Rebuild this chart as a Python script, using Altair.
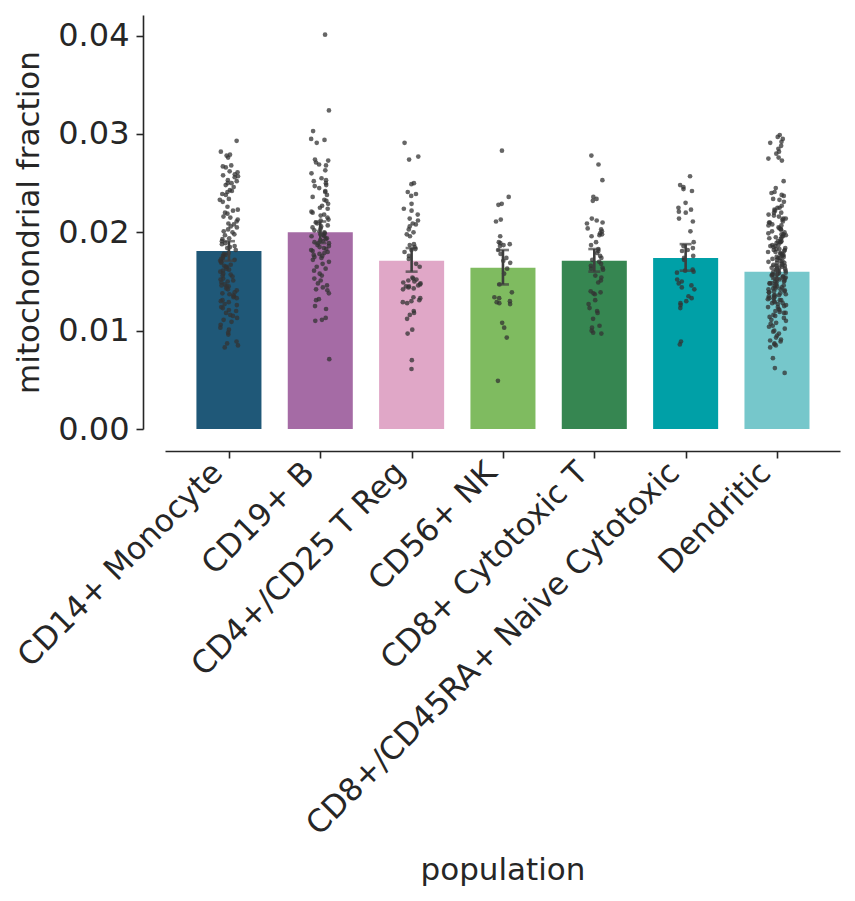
import json
import altair as alt
import pandas as pd

categories = ["CD14+ Monocyte", "CD19+ B", "CD4+/CD25 T Reg", "CD56+ NK",
              "CD8+ Cytotoxic T", "CD8+/CD45RA+ Naive Cytotoxic", "Dendritic"]
colors = ["#1f5878", "#a56ba5", "#e0a7c7", "#7fbb60", "#368651", "#00a0a7", "#76c7cb"]
means = [0.0181, 0.0200, 0.0171, 0.0164, 0.0171, 0.0174, 0.0160]
ci_low = [0.0171, 0.0189, 0.0160, 0.0147, 0.0160, 0.0161, 0.0153]
ci_high = [0.0191, 0.0211, 0.0184, 0.0182, 0.0183, 0.0188, 0.0166]

cd14 = [0.0293, 0.0282, 0.0279, 0.0278, 0.0276, 0.0268, 0.0267, 0.0266, 0.0262, 0.0261,
        0.0259, 0.0258, 0.0257, 0.0256, 0.0253, 0.0252, 0.0250, 0.0250, 0.0248, 0.0246,
        0.0243, 0.0242, 0.0241, 0.0239, 0.0238, 0.0234, 0.0233, 0.0231, 0.0226, 0.0223,
        0.0222, 0.0220, 0.0219, 0.0216, 0.0215, 0.0213, 0.0211, 0.0209, 0.0208, 0.0206,
        0.0205, 0.0203, 0.0201, 0.0200, 0.0198, 0.0197, 0.0194, 0.0193, 0.0191, 0.0189,
        0.0188, 0.0186, 0.0185, 0.0184, 0.0182, 0.0179, 0.0178, 0.0177, 0.0176, 0.0174,
        0.0173, 0.0172, 0.0171, 0.0170, 0.0169, 0.0167, 0.0166, 0.0165, 0.0165, 0.0163,
        0.0162, 0.0161, 0.0160, 0.0158, 0.0157, 0.0156, 0.0155, 0.0153, 0.0152, 0.0151,
        0.0150, 0.0149, 0.0147, 0.0146, 0.0145, 0.0145, 0.0143, 0.0142, 0.0141, 0.0139,
        0.0138, 0.0137, 0.0136, 0.0135, 0.0134, 0.0133, 0.0131, 0.0130, 0.0129, 0.0127,
        0.0126, 0.0124, 0.0123, 0.0121, 0.0120, 0.0118, 0.0116, 0.0115, 0.0113, 0.0111,
        0.0109, 0.0106, 0.0103, 0.0101, 0.0098, 0.0096, 0.0089, 0.0087, 0.0085, 0.0083]
cd19 = [0.0401, 0.0324, 0.0303, 0.0295, 0.0294, 0.0291, 0.0274, 0.0273, 0.0271, 0.0269,
        0.0268, 0.0263, 0.0260, 0.0255, 0.0253, 0.0252, 0.0250, 0.0248, 0.0247, 0.0245,
        0.0242, 0.0241, 0.0238, 0.0236, 0.0233, 0.0232, 0.0229, 0.0227, 0.0225, 0.0224,
        0.0221, 0.0220, 0.0218, 0.0217, 0.0215, 0.0213, 0.0212, 0.0210, 0.0209, 0.0207,
        0.0206, 0.0205, 0.0204, 0.0202, 0.0201, 0.0200, 0.0199, 0.0198, 0.0197, 0.0196,
        0.0196, 0.0194, 0.0193, 0.0192, 0.0191, 0.0190, 0.0189, 0.0189, 0.0187, 0.0186,
        0.0185, 0.0184, 0.0183, 0.0182, 0.0181, 0.0180, 0.0179, 0.0178, 0.0177, 0.0176,
        0.0175, 0.0174, 0.0172, 0.0170, 0.0168, 0.0165, 0.0163, 0.0161, 0.0158, 0.0156,
        0.0153, 0.0151, 0.0148, 0.0146, 0.0144, 0.0142, 0.0141, 0.0138, 0.0132, 0.0131,
        0.0125, 0.0122, 0.0113, 0.0111, 0.0110, 0.0071]
cd4 = [0.0291, 0.0277, 0.0274, 0.0250, 0.0249, 0.0241, 0.0239, 0.0237, 0.0229, 0.0224,
       0.0222, 0.0218, 0.0214, 0.0212, 0.0209, 0.0208, 0.0206, 0.0203, 0.0200, 0.0198,
       0.0196, 0.0188, 0.0187, 0.0185, 0.0183, 0.0182, 0.0180, 0.0176, 0.0173, 0.0168,
       0.0165, 0.0154, 0.0153, 0.0152, 0.0151, 0.0150, 0.0149, 0.0148, 0.0147, 0.0146,
       0.0145, 0.0145, 0.0144, 0.0143, 0.0142, 0.0134, 0.0133, 0.0131, 0.0130, 0.0129,
       0.0128, 0.0120, 0.0118, 0.0116, 0.0112, 0.0101, 0.0097, 0.0070, 0.0061]
nk = [0.0283, 0.0236, 0.0229, 0.0228, 0.0213, 0.0211, 0.0196, 0.0190, 0.0189, 0.0188,
      0.0187, 0.0186, 0.0182, 0.0178, 0.0174, 0.0171, 0.0169, 0.0163, 0.0158, 0.0147,
      0.0139, 0.0134, 0.0133, 0.0130, 0.0129, 0.0128, 0.0127, 0.0108, 0.0103, 0.0093,
      0.0049]
cd8 = [0.0278, 0.0269, 0.0253, 0.0236, 0.0234, 0.0232, 0.0214, 0.0212, 0.0210, 0.0209,
       0.0204, 0.0203, 0.0201, 0.0199, 0.0198, 0.0197, 0.0196, 0.0190, 0.0187, 0.0183,
       0.0181, 0.0179, 0.0176, 0.0174, 0.0172, 0.0170, 0.0168, 0.0166, 0.0164, 0.0163,
       0.0162, 0.0156, 0.0154, 0.0151, 0.0149, 0.0140, 0.0139, 0.0138, 0.0137, 0.0131,
       0.0127, 0.0123, 0.0120, 0.0118, 0.0112, 0.0105, 0.0103, 0.0100, 0.0098, 0.0097]
cd45ra = [0.0257, 0.0248, 0.0246, 0.0244, 0.0242, 0.0230, 0.0225, 0.0223, 0.0221, 0.0220,
          0.0214, 0.0211, 0.0201, 0.0190, 0.0186, 0.0184, 0.0182, 0.0181, 0.0176, 0.0174,
          0.0172, 0.0162, 0.0161, 0.0160, 0.0159, 0.0152, 0.0150, 0.0148, 0.0146, 0.0144,
          0.0142, 0.0135, 0.0133, 0.0130, 0.0128, 0.0126, 0.0123, 0.0089, 0.0086]
dendritic = [0.0299, 0.0297, 0.0295, 0.0292, 0.0291, 0.0288, 0.0285, 0.0282, 0.0280, 0.0276,
             0.0275, 0.0273, 0.0252, 0.0245, 0.0241, 0.0240, 0.0238, 0.0237, 0.0234, 0.0233,
             0.0231, 0.0227, 0.0225, 0.0225, 0.0223, 0.0222, 0.0220, 0.0220, 0.0218, 0.0217,
             0.0216, 0.0214, 0.0214, 0.0213, 0.0211, 0.0210, 0.0210, 0.0208, 0.0207, 0.0207,
             0.0205, 0.0204, 0.0203, 0.0203, 0.0201, 0.0200, 0.0199, 0.0198, 0.0198, 0.0197,
             0.0196, 0.0195, 0.0195, 0.0194, 0.0193, 0.0191, 0.0191, 0.0190, 0.0190, 0.0189,
             0.0187, 0.0187, 0.0186, 0.0186, 0.0185, 0.0184, 0.0183, 0.0183, 0.0182, 0.0182,
             0.0181, 0.0180, 0.0180, 0.0179, 0.0178, 0.0178, 0.0177, 0.0176, 0.0175, 0.0175,
             0.0174, 0.0174, 0.0173, 0.0172, 0.0171, 0.0171, 0.0170, 0.0169, 0.0169, 0.0168,
             0.0167, 0.0167, 0.0166, 0.0166, 0.0165, 0.0164, 0.0163, 0.0163, 0.0163, 0.0162,
             0.0161, 0.0161, 0.0160, 0.0159, 0.0159, 0.0158, 0.0157, 0.0157, 0.0157, 0.0156,
             0.0155, 0.0155, 0.0154, 0.0153, 0.0153, 0.0152, 0.0152, 0.0151, 0.0150, 0.0150,
             0.0149, 0.0148, 0.0148, 0.0148, 0.0147, 0.0146, 0.0145, 0.0145, 0.0144, 0.0143,
             0.0143, 0.0142, 0.0142, 0.0141, 0.0140, 0.0140, 0.0139, 0.0139, 0.0138, 0.0137,
             0.0136, 0.0136, 0.0136, 0.0135, 0.0134, 0.0133, 0.0133, 0.0132, 0.0131, 0.0131,
             0.0130, 0.0129, 0.0128, 0.0128, 0.0127, 0.0126, 0.0125, 0.0124, 0.0124, 0.0122,
             0.0121, 0.0120, 0.0119, 0.0118, 0.0118, 0.0116, 0.0115, 0.0114, 0.0113, 0.0111,
             0.0110, 0.0108, 0.0107, 0.0105, 0.0104, 0.0102, 0.0100, 0.0099, 0.0097, 0.0095,
             0.0093, 0.0091, 0.0090, 0.0089, 0.0087, 0.0086, 0.0085, 0.0083, 0.0072, 0.0062,
             0.0057]

point_lists = [cd14, cd19, cd4, nk, cd8, cd45ra, dendritic]

summary = pd.DataFrame({"population": categories, "idx": list(range(len(categories))),
                        "mean": means, "lo": ci_low, "hi": ci_high})
points_df = pd.DataFrame(
    [{"population": c, "idx": i, "value": v}
     for i, (c, vals) in enumerate(zip(categories, point_lists)) for v in vals]
)

HALF = 0.356   # half bar width in category units
xscale = alt.Scale(domain=[-0.70, 6.69], nice=False, zero=False)
xaxis = alt.Axis(title="population", values=list(range(len(categories))),
                 labelExpr=json.dumps(categories) + "[datum.value]",
                 labelAngle=-45, labelAlign="right", labelBaseline="bottom",
                 labelPadding=21, labelLimit=1000, labelOverlap=False, labelFlush=False,
                 labelBound=False, offset=22, titleY=428, titleBaseline="alphabetic",
                 titleFontSize=31, labelFontSize=31.3)
yscale = alt.Scale(domain=[0, 0.0421], nice=False, zero=True)
yaxis = alt.Axis(title="mitochondrial fraction", values=[0, 0.01, 0.02, 0.03, 0.04],
                 format=".2f", offset=22, titlePadding=12, labelPadding=7, titleFontSize=31,
                 labelFontSize=32)

bars = alt.Chart(summary).transform_calculate(
    x0=f"datum.idx - {HALF}", x1=f"datum.idx + {HALF}"
).mark_rect().encode(
    x=alt.X("x0:Q", scale=xscale, axis=xaxis),
    x2="x1:Q",
    y=alt.Y("mean:Q", scale=yscale, axis=yaxis),
    y2=alt.datum(0),
    color=alt.Color("population:N", scale=alt.Scale(domain=categories, range=colors), legend=None),
)

jit_expr = ("datum.idx + ((((sin(datum.row*12.9898)*43758.5453) % 1) + 1) % 1 - 0.5) * 0.2")
points = alt.Chart(points_df).transform_window(
    row="row_number()"
).transform_calculate(
    xj=jit_expr
).mark_circle(size=22, color="#333333", opacity=0.75).encode(
    x=alt.X("xj:Q", scale=xscale),
    y=alt.Y("value:Q", scale=yscale),
)

err = alt.Chart(summary).mark_rule(color="#3d3d3d", strokeWidth=2.6).encode(
    x=alt.X("idx:Q", scale=xscale),
    y=alt.Y("lo:Q", scale=yscale),
    y2="hi:Q",
)
cap_lo = alt.Chart(summary).mark_tick(color="#3d3d3d", orient="horizontal", size=12, thickness=2.6).encode(
    x=alt.X("idx:Q", scale=xscale),
    y=alt.Y("lo:Q", scale=yscale),
)
cap_hi = alt.Chart(summary).mark_tick(color="#3d3d3d", orient="horizontal", size=12, thickness=2.6).encode(
    x=alt.X("idx:Q", scale=xscale),
    y=alt.Y("hi:Q", scale=yscale),
)

chart = alt.layer(bars, points, err, cap_lo, cap_hi).properties(
    width=675, height=414,
    autosize=alt.AutoSizeParams(type="none"),
    padding={"left": 157, "top": 7, "right": 7, "bottom": 468},
).configure_view(stroke=None).configure_axis(
    grid=False,
    domainColor="#262626", tickColor="#262626", labelColor="#262626", titleColor="#262626",
    domainWidth=1.6, tickWidth=1.6, tickSize=7,
    labelFont="DejaVu Sans", titleFont="DejaVu Sans",
    titleFontWeight="normal",
)

chart.save("out.html", embed_options={"renderer": "svg", "actions": False})
